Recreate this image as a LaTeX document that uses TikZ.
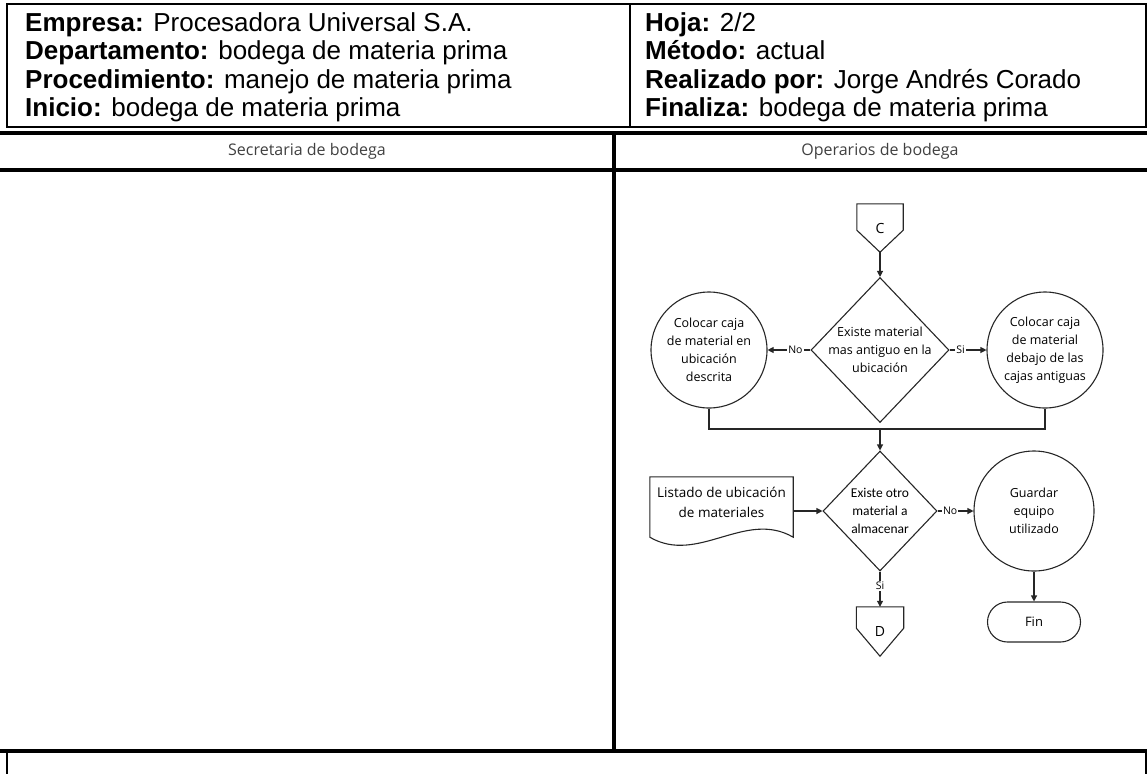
\documentclass[tikz,border=0pt]{standalone}
\usepackage{fontspec}
\setmainfont{Liberation Sans}
\newfontfamily\flowfont{Open Sans}
\newfontfamily\narrowfont{Carlito}
\usetikzlibrary{arrows.meta,shapes.geometric}

\begin{document}
\begin{tikzpicture}[x=1pt,y=-1pt,
  hdr/.style={anchor=base west, inner sep=0pt, font=\fontsize{26}{28}\selectfont},
  lanetitle/.style={inner sep=0pt, text=black!75, font=\flowfont\fontsize{16}{18}\selectfont},
  heavyline/.style={line width=4pt},
  frameline/.style={line width=1.3pt},
  flowline/.style={draw=black!85, line width=1.1pt},
  arrowline/.style={flowline, -{Triangle[length=6pt,width=6pt]}},
  ftext/.style={inner sep=0pt, align=center, font=\flowfont\fontsize{12.5}{18}\selectfont},
  ntext/.style={inner sep=0pt, align=center, font=\narrowfont\fontsize{13.5}{18}\selectfont},
  edgelabel/.style={fill=white, inner sep=1pt, font=\flowfont\fontsize{10.5}{12}\selectfont},
  circ/.style={circle, flowline, inner sep=0pt, minimum size=116pt, ftext},
  dia/.style={diamond, flowline, inner sep=0pt},
  offpage/.style={inner sep=0pt, minimum width=46pt, minimum height=48pt, ftext, font=\flowfont\fontsize{14}{16}\selectfont},
  term/.style={rectangle, flowline, rounded corners=20pt, minimum width=93pt, minimum height=40pt, ftext, font=\flowfont\fontsize{13}{16}\selectfont},
  docshape/.style={inner sep=0pt, minimum width=143pt, minimum height=68pt}
]
\useasboundingbox (0,0) rectangle (1147,774);

% --- title block ---
\draw[frameline] (7,4) rectangle (1146,127);
\draw[frameline] (630,4) -- (630,127);
\node[hdr] (h1) at (25,31)    {\textbf{Empresa:} Procesadora Universal S.A.};
\node[hdr] (h2) at (25,59.5)  {\textbf{Departamento:} bodega de materia prima};
\node[hdr] (h3) at (25,88)    {\textbf{Procedimiento:} manejo de materia prima};
\node[hdr] (h4) at (25,116.5) {\textbf{Inicio:} bodega de materia prima};
\node[hdr] (h5) at (645,31)    {\textbf{Hoja:} 2/2};
\node[hdr] (h6) at (645,59.5)  {\textbf{Método:} actual};
\node[hdr] (h7) at (645,88)    {\textbf{Realizado por:} Jorge Andrés Corado};
\node[hdr] (h8) at (645,116.5) {\textbf{Finaliza:} bodega de materia prima};

% --- swimlanes ---
\draw[heavyline] (0,133) -- (1147,133);
\draw[heavyline] (0,170) -- (1147,170);
\draw[heavyline] (614,133) -- (614,751);
\draw[heavyline] (0,751) -- (1147,751);
\draw[frameline] (7,753) -- (7,774);
\draw[frameline] (1146,753) -- (1146,774);
\node[lanetitle] (lane1) at (307,151) {Secretaria de bodega};
\node[lanetitle] (lane2) at (880,151) {Operarios de bodega};

% --- flowchart ---
\node[offpage] (C) at (880,228) {C};
\draw[flowline] (C.north west) -- (C.north east) -- ([yshift=22pt]C.south east)
  -- (C.south) -- ([yshift=22pt]C.south west) -- cycle;

\node[dia, minimum width=138pt, minimum height=145pt] (d1) at (880,350) {};
\node[ftext] (d1t) at (d1) {Existe material\\mas antiguo en la\\ubicación};

\node[circ] (c1) at (709,350) {Colocar caja\\de material en\\ubicación\\descrita};
\node[circ] (c2) at (1045,350) {Colocar caja\\de material\\debajo de las\\cajas antiguas};

\coordinate (m) at (880,429);

\node[dia, minimum width=114pt, minimum height=120pt] (d2) at (880,511) {};
\node[ntext] (d2t) at (d2) {Existe otro\\material a\\almacenar};

\node[docshape] (doc) at (721.5,511) {};
\draw[flowline] (doc.north west) -- (doc.north east) -- ([yshift=8pt]doc.south east)
  .. controls ([xshift=-48pt,yshift=36pt]doc.south east) and ([xshift=48pt,yshift=-20pt]doc.south west)
  .. ([yshift=8pt]doc.south west) -- cycle;
\node[ftext, font=\flowfont\fontsize{13.5}{20}\selectfont] (doct) at (721.5,502) {Listado de ubicación\\de materiales};

\node[circ, minimum size=120pt] (c3) at (1034,511) {Guardar\\equipo\\utilizado};
\node[term] (fin) at (1034,622) {Fin};

\node[offpage, minimum width=47pt, minimum height=49pt] (D) at (880,631.5) {D};
\draw[flowline] (D.north west) -- (D.north east) -- ([yshift=28pt]D.south east)
  -- (D.south) -- ([yshift=28pt]D.south west) -- cycle;

% --- connectors ---
\draw[arrowline] (C.south) -- (d1.north);
\draw[arrowline] (d1.west) -- node[edgelabel, pos=0.35] {No} (c1.east);
\draw[arrowline] (d1.east) -- node[edgelabel, pos=0.3] {Si} (c2.west);
\draw[flowline] (c1.south) -- (c1.south |- m) -- (c2.south |- m) -- (c2.south);
\draw[arrowline] (m) -- (d2.north);
\draw[arrowline] (doc.east) -- (d2.west);
\draw[arrowline] (d2.east) -- node[edgelabel, pos=0.35] {No} (c3.west);
\draw[arrowline] (c3.south) -- (fin.north);
\draw[arrowline] (d2.south) -- node[edgelabel, pos=0.4] {Si} (D.north);
\end{tikzpicture}
\end{document}
